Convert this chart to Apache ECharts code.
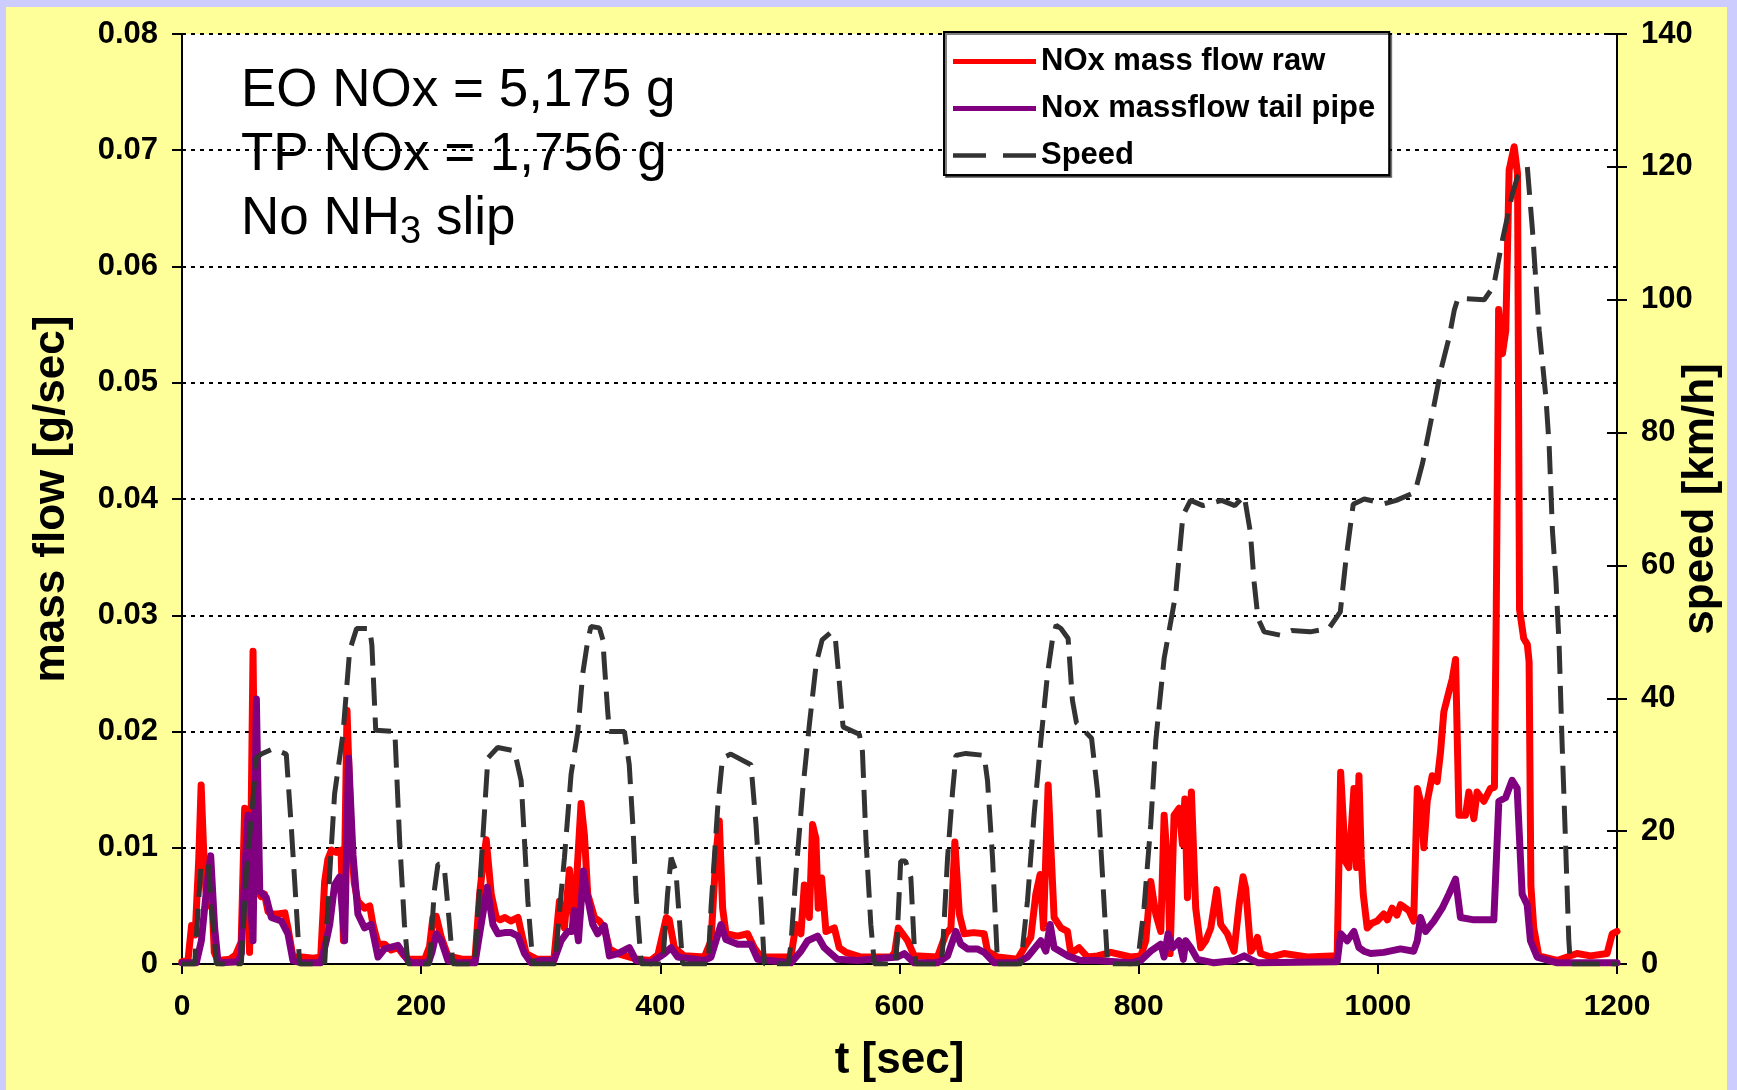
<!DOCTYPE html>
<html>
<head>
<meta charset="utf-8">
<script src="https://cdn.jsdelivr.net/npm/echarts/dist/echarts.min.js"></script>
<style>
    html, body { margin: 0; padding: 0; background: #ccccff; }
    #panel { position: absolute; left: 6px; top: 7px; width: 1721px; height: 1083px; background: #ffff99; }
    #chartWrapper { position: absolute; left: 0; top: 0; width: 1737px; height: 1090px; }
</style>
</head>
<body>
<div id="panel"></div>
<div id="chartWrapper"></div>
<script>
// t [sec] / value pairs
let noxRaw = [[0,0.0002],[5,0.0003],[8,0.0033],[11,0.0025],[14,0.009],[16,0.0154],[18,0.010],[20,0.0063],[22,0.005],[24,0.008],[27,0.001],[30,0.0003],[40,0.0004],[45,0.0008],[49.5,0.0019],[52.4,0.0134],[54,0.0110],[56.5,0.0010],[59.4,0.0269],[61,0.012],[63.6,0.0063],[66,0.0058],[69,0.006],[72,0.0045],[75,0.0043],[80,0.0043],[86,0.0044],[88.6,0.0031],[92.8,0.0006],[100,0.0006],[110,0.0005],[116,0.0006],[119.3,0.0071],[122,0.009],[125,0.0098],[129,0.0096],[133,0.0098],[135,0.002],[138,0.0218],[141.6,0.0105],[144,0.007],[147,0.0054],[152.7,0.0048],[157,0.005],[159.7,0.0034],[164,0.0017],[169.4,0.0017],[175,0.0012],[180.6,0.0014],[185,0.0008],[189,0.0004],[203,0.0004],[207,0.0015],[209.8,0.004],[212.6,0.0041],[216.8,0.0023],[222.4,0.0007],[235,0.0004],[245,0.0004],[248.9,0.006],[251,0.008],[254.4,0.0107],[258.6,0.006],[262.8,0.004],[266,0.0038],[270,0.004],[275,0.0037],[281,0.004],[283.6,0.0028],[287.8,0.0009],[297,0.0004],
    [311,0.0004],[315.6,0.0054],[319.8,0.0031],[324,0.0081],[327.6,0.0031],[330.4,0.008],[333.7,0.0138],[336.5,0.0111],[339.3,0.006],[344.9,0.004],[349,0.0037],[353.2,0.0031],[357.4,0.0013],[364.4,0.0009],[381,0.0004],[392,0.0003],[398,0.0008],[402,0.0026],[405,0.004],[407.5,0.0038],[411.7,0.0014],[420,0.0007],[436.8,0.0006],[442.4,0.002],[446.5,0.0094],[449.3,0.0123],[452.1,0.0048],[454.9,0.0026],[464.7,0.0024],[473,0.0026],[478.6,0.0014],[484.2,0.0006],[509.2,0.0006],[513.4,0.0034],[517.6,0.0026],[520.4,0.0068],[524.6,0.004],[527.3,0.012],[530.1,0.0108],[532,0.0048],[534.9,0.0074],[538.5,0.0028],[545.5,0.0031],[549.6,0.0014],[555.2,0.001],[567.7,0.0006],[593,0.0006],
    [596,0.001],[599,0.0031],[602.6,0.0026],[606.8,0.002],[612.3,0.0007],[631.8,0.0006],[638.8,0.0026],[643,0.0031],[646.3,0.0105],[650,0.0043],[654.1,0.0026],[662,0.0027],[670.8,0.0026],[673.6,0.0011],[682,0.0006],[698.7,0.0004],[704.3,0.0014],[709.8,0.0023],[714,0.006],[717.6,0.0077],[720.4,0.0031],[724.3,0.0154],[726.6,0.01],[729.3,0.004],[735,0.0031],[740.5,0.0028],[743.3,0.0009],[750.2,0.0014],[757.2,0.0006],[765.6,0.0007],[776.7,0.001],[793.4,0.0006],[801.8,0.0007],[806,0.002],[810.1,0.0071],[814.3,0.0043],[818.5,0.0028],[821.3,0.0128],[824.6,0.0077],[826.3,0.0009],[829.6,0.0128],[833.8,0.0134],[836.6,0.0103],[838.6,0.0142],[840.8,0.0057],[844.1,0.0148],[847.7,0.0048],[851.9,0.0014],[856.1,0.002],[860.3,0.0031],[865.3,0.0064],[868.6,0.0034],[874.2,0.0026],[879.8,0.0011],[884,0.0051],[887.3,0.0075],[889.5,0.0065],[893.7,0.0011],[897,0.0016],[899.3,0.0023],
    [902,0.0009],[910.3,0.0006],[921.5,0.0009],[941,0.0006],[966,0.0007],[968.9,0.0165],[973,0.0088],[975.8,0.0083],[980,0.0151],[982.2,0.0083],[984.2,0.0162],[986.1,0.0091],[987.8,0.006],[991.1,0.0031],[995,0.0035],[999.5,0.0037],[1005,0.0043],[1008,0.0038],[1012,0.0048],[1016,0.0042],[1019,0.0051],[1026,0.0046],[1030,0.0037],[1033,0.0151],[1035.7,0.014],[1038.5,0.01],[1041.3,0.014],[1045.5,0.0162],[1049.6,0.0157],[1052.4,0.0182],[1055.2,0.0217],[1059.4,0.0234],[1062.2,0.0245],[1065,0.0262],[1067.8,0.0128],[1073.3,0.0128],[1076.1,0.0148],[1080.3,0.0125],[1083,0.0148],[1088.7,0.014],[1094.2,0.0151],[1097.5,0.0152],[1099,0.03],[1101,0.0563],[1104.2,0.0525],[1107,0.0545],[1109.8,0.0683],[1114,0.0703],[1116.8,0.068],[1118.5,0.0305],[1122,0.028],[1125,0.0275],[1126.5,0.026],[1128,0.0067],[1130.4,0.0031],[1134.6,0.0007],[1150,0.0003],[1158.3,0.0006],[1166.6,0.0009],[1177.8,0.0007],[1191.7,0.0009],[1196,0.0026],[1200,0.0028]];

let noxTailPipe = [[0,0.0001],[12,0.0001],[16.2,0.002],[20.4,0.0063],[24,0.0093],[27.3,0.0031],[30,0.0003],[33,0.0001],[47,0.0002],[49.6,0.0009],[52.4,0.0077],[55.2,0.0128],[57,0.006],[59.4,0.002],[62.2,0.0228],[65,0.0063],[70.5,0.0057],[74.7,0.004],[83,0.0037],[88.6,0.0026],[92.8,0.0003],[100,0.0001],[116,0.0001],[120.7,0.002],[123.5,0.0034],[127.6,0.0068],[131.8,0.0075],[136,0.002],[139.3,0.0177],[143,0.0094],[147.1,0.0043],[152.7,0.0031],[158.3,0.0034],[163.9,0.0006],[169.4,0.0013],[180.6,0.0016],[189,0.0003],[192,0.0001],[206,0.0001],[209,0.001],[212.6,0.0026],[216.8,0.002],[222.4,0.0003],[230,0.0001],[245,0.0001],[248.9,0.0026],[255.2,0.0066],[260,0.0034],[264.2,0.0026],[270,0.0027],[275.3,0.0027],[280.9,0.0024],[286.4,0.0009],[292,0.0001],[300,0.0003],
    [311,0.0003],[317,0.002],[322.6,0.0028],[326,0.0028],[328.1,0.0046],[331.5,0.002],[335.7,0.008],[338.7,0.006],[343.5,0.0034],[347.6,0.0026],[353.2,0.0033],[357.4,0.0007],[364.4,0.0009],[374.1,0.0014],[379.7,0.0003],[392,0.0001],[403.4,0.0009],[409,0.0014],[414.5,0.0006],[436.8,0.0003],[442.4,0.0006],[450.7,0.0034],[454.9,0.0021],[464.7,0.0017],[475.8,0.0017],[481.4,0.0004],[509.2,0.0001],[517.6,0.0011],[523.2,0.002],[531.5,0.0024],[537.1,0.0014],[542.7,0.0009],[548.2,0.0004],[565,0.0003],[598,0.0006],
    [604,0.0009],[612.3,0.0001],[631.8,0.0001],[640.2,0.0007],[647.2,0.0028],[651.3,0.0017],[656.9,0.0013],[665,0.0013],[670.8,0.001],[679.2,0.0001],[698.7,0.0001],[707,0.0006],[718.2,0.002],[722.4,0.0011],[726,0.0034],[729.3,0.0014],[740.5,0.0007],[751.6,0.0003],[765,0.0003],[793,0.0001],[801.8,0.0003],[810,0.0011],[818.5,0.0017],[821.3,0.0006],[824.6,0.0026],[828.3,0.0014],[833.8,0.002],[837.4,0.0004],[839.4,0.002],[843.6,0.0014],[849.1,0.0004],[863,0.0001],[880,0.0003],[888.2,0.0007],[893.7,0.0004],[900,0.0001],
    [966,0.0002],[968.9,0.0026],[974.4,0.002],[980,0.0028],[984.2,0.0014],[988.4,0.0011],[994,0.0009],[1005,0.001],[1019,0.0013],[1030,0.0011],[1033,0.002],[1035.7,0.004],[1039.9,0.0028],[1046.9,0.0037],[1053.8,0.0048],[1059.4,0.006],[1065,0.0073],[1069.1,0.004],[1080.3,0.0038],[1097,0.0038],[1101.2,0.014],[1106.8,0.0143],[1112.3,0.0158],[1116.5,0.0151],[1120.7,0.006],[1124.9,0.0051],[1127.6,0.002],[1133.2,0.0006],[1150,0.0001],[1200,0.0001]];

let speed = [[0,0],[10.6,0],[13,7],[16,15],[22,15],[25,8],[28.7,0],[49.6,0],[53.8,13.5],[57,20],[62.2,31],[66.3,31.6],[76,32.4],[87.2,31.6],[91.4,20.6],[95.6,8.5],[98.4,0],[119.3,0],[123.5,13.5],[127.6,25.6],[134.6,34.6],[140.2,47.2],[146,50.5],[157,50.5],[158.8,48],[162,35.2],[178,35],[182,18.6],[186,6],[189,0],
    [207,0],[211,11],[214,15],[218,15],[219.6,14],[223.7,6],[226.5,0],[244.6,0],[250,14.5],[255.8,31],[264,32.6],[278,32.1],[283.6,27.6],[289.2,9.5],[293.4,0],[312,0],[314.2,5],[319.8,16],[325.4,28.6],[331,35],[335.1,43.7],[339.3,48.7],[342,50.8],[349,50.6],[352,48.8],[353,45.7],[356,38],[357.4,35],[370,35],[374,30],[377,21],[379.7,10.5],[384,0],
    [402,0],[406,10.5],[409,16],[413,14],[417.3,3.3],[418.7,0],[440,0],[442.4,8.5],[448,23.6],[452,31],[459,31.6],[475.8,30],[480,21],[484.2,9],[487,0],[507,0],[509.2,3],[513.4,13.5],[519,26],[524.6,36],[530.4,45.3],[535.3,48.8],[543.2,50],[546.5,48.7],[549.6,42.6],[552.8,35.7],[566.4,34.6],[569,32],[572,18.6],[576,6],[579,0],
    [597,0],[601,15.5],[605,15.5],[609.5,13],[612.3,2.8],[613.7,0],[634.6,0],[636,2],[640.2,16],[644.4,26],[647.2,31.4],[655.5,31.7],[670.8,31.4],[673.6,27.6],[677.8,16],[682,0],[701.5,0],[707,9.5],[712.6,22.6],[718.2,33.6],[723.8,43.7],[728,49],[731,51],[735,50.5],[741,49],[744.6,39.7],[748,36.3],[760.6,34],[765.6,26],[769.7,13.5],[774,0],
    [799,0],[804.5,8.5],[810.1,21],[814.3,33.6],[821.3,46],[831,55.7],[837,67.5],[843.4,69.8],[853.8,69],[869.4,69.8],[880.4,69],[888.3,70.5],[893.4,65],[896.6,57.4],[899.8,52],[905,50],[918.5,49.5],[927.9,50.2],[943.5,50],[959,50.5],[968.6,53],[973.3,60.8],[979.4,69.2],[988.6,70],[1005.5,69.3],[1015.4,69.8],[1031,71],[1037.4,75.4],[1045.8,83],[1052.7,89.4],[1059.7,94.4],[1063.9,98.4],[1067,100.2],[1089,100],[1096.8,102],[1104.2,109],[1108.4,112.5],[1112.6,116],[1116.8,118.5],[1122,119.5],[1125,120],[1129.3,110.5],[1134.9,95.4],[1140.5,85.4],[1143.3,77.9],[1146,65.3],[1148.9,57.8],[1151.6,48],[1154,33.7],[1156.9,18.7],[1159.7,3.6],[1161,0],[1200,0]];

let seriesNames = ['NOx mass flow raw', 'Nox massflow tail pipe', 'Speed'];
let noteLines = ['EO NOx = 5,175 g', 'TP NOx = 1,756 g'];

let font = 'Liberation Sans, Arial, sans-serif';
let myChart = echarts.init(document.getElementById('chartWrapper'));

let option = {
    animation: false,
    textStyle: { fontFamily: font },
    grid: {
        left: 182,
        right: 120,
        top: 34,
        bottom: 126,
        show: true,
        backgroundColor: '#ffffff',
        borderWidth: 0,
        outerBoundsMode: 'none'
    },
    legend: {
        data: [
            { name: seriesNames[0], icon: 'rect' },
            { name: seriesNames[1], icon: 'rect' },
            { name: seriesNames[2], icon: 'path://M0,0H31V4H0Z M47,0H78V4H47Z' }
        ],
        orient: 'vertical',
        left: 944,
        top: 32,
        itemWidth: 83,
        itemHeight: 5,
        itemGap: 16,
        padding: [14, 14, 4, 9],
        borderColor: '#000',
        borderWidth: 2,
        backgroundColor: '#ffffff',
        shadowColor: 'rgba(0,0,0,0.5)',
        shadowOffsetX: 2,
        shadowOffsetY: 2,
        textStyle: { fontSize: 31, fontWeight: 'bold', color: '#000', fontFamily: font }
    },
    xAxis: {
        type: 'value',
        min: 0,
        max: 1200,
        interval: 200,
        axisLine: { show: true, onZero: false, lineStyle: { color: '#000', width: 2 } },
        axisTick: { show: true, length: 10, lineStyle: { color: '#000', width: 2 } },
        axisLabel: {
            fontSize: 30, fontWeight: 'bold', color: '#000', margin: 28,
            formatter: function (v) {
                return String(v);
            }
        },
        splitLine: { show: false },
        name: 't [sec]',
        nameLocation: 'middle',
        nameGap: 75,
        nameMoveOverlap: false,
        nameTextStyle: { fontSize: 44, fontWeight: 'bold', color: '#000' }
    },
    yAxis: [
        {
            type: 'value',
            position: 'left',
            min: 0,
            max: 0.08,
            interval: 0.01,
            axisLine: { show: true, lineStyle: { color: '#000', width: 2 } },
            axisTick: { show: true, length: 10, lineStyle: { color: '#000', width: 2 } },
            axisLabel: {
                fontSize: 31, fontWeight: 'bold', color: '#000', margin: 24,
                formatter: function (v) {
                    return v === 0 ? '0' : v.toFixed(2);
                }
            },
            splitLine: { show: true, lineStyle: { color: '#000', width: 2, type: [4, 5] } },
            name: 'mass flow [g/sec]',
            nameLocation: 'middle',
            nameRotate: 90,
            nameGap: 108,
            nameMoveOverlap: false,
            nameTextStyle: { fontSize: 44, fontWeight: 'bold', color: '#000' }
        },
        {
            type: 'value',
            position: 'right',
            min: 0,
            max: 140,
            interval: 20,
            axisLine: { show: true, lineStyle: { color: '#000', width: 2 } },
            axisTick: { show: true, length: 10, lineStyle: { color: '#000', width: 2 } },
            axisLabel: { fontSize: 31, fontWeight: 'bold', color: '#000', margin: 24 },
            splitLine: { show: false },
            name: 'speed [km/h]',
            nameLocation: 'middle',
            nameRotate: 90,
            nameGap: 62,
            nameMoveOverlap: false,
            nameTextStyle: { fontSize: 44, fontWeight: 'bold', color: '#000' }
        },
        {
            // inner half of the crossing ticks on the speed axis
            type: 'value',
            position: 'right',
            min: 0,
            max: 140,
            interval: 20,
            axisLine: { show: false },
            axisTick: { show: true, inside: true, length: 10, lineStyle: { color: '#000', width: 2 } },
            axisLabel: { show: false },
            splitLine: { show: false }
        }
    ],
    graphic: [
        {
            type: 'text',
            left: 241,
            top: 65,
            z: 100,
            style: {
                text: '{a|' + noteLines[0] + '}\n{a|' + noteLines[1] + '}\n{a|No NH}{s|3}{a| slip}',
                fill: '#000',
                rich: {
                    a: { fontSize: 53, lineHeight: 64, fontFamily: font, fill: '#000' },
                    s: { fontSize: 38, lineHeight: 34, fontFamily: font, fill: '#000', verticalAlign: 'bottom' }
                }
            }
        }
    ],
    series: [
        {
            name: seriesNames[0],
            type: 'line',
            yAxisIndex: 0,
            data: noxRaw,
            symbol: 'none',
            z: 2,
            itemStyle: { color: '#ff0000' },
            lineStyle: { color: '#ff0000', width: 7, cap: 'round', join: 'round' }
        },
        {
            name: seriesNames[1],
            type: 'line',
            yAxisIndex: 0,
            data: noxTailPipe,
            symbol: 'none',
            z: 3,
            itemStyle: { color: '#800080' },
            lineStyle: { color: '#800080', width: 7, cap: 'round', join: 'round' }
        },
        {
            name: seriesNames[2],
            type: 'line',
            yAxisIndex: 1,
            data: speed,
            symbol: 'none',
            z: 4,
            itemStyle: { color: '#333333' },
            lineStyle: { color: '#333333', width: 5, type: [28, 12] }
        }
    ]
};

myChart.setOption(option);
</script>
</body>
</html>
